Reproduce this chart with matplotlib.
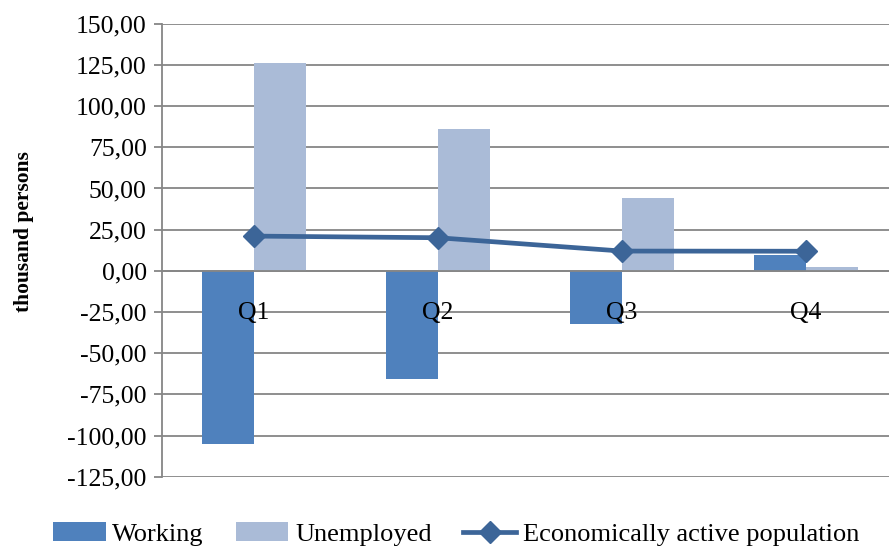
import numpy as np
import matplotlib
matplotlib.use("Agg")
import matplotlib.pyplot as plt

plt.rcParams['font.family'] = ['Liberation Serif', 'DejaVu Serif']

quarters = ["Q1", "Q2", "Q3", "Q4"]
working = [-104.9, -65.8, -32.0, 9.5]
unemployed = [126.0, 85.9, 44.0, 2.4]
active = [21.1, 20.1, 12.0, 11.9]
y_ticks = [-125, -100, -75, -50, -25, 0, 25, 50, 75, 100, 125, 150]

grid_col = "#868686"

fig = plt.figure(figsize=(8.89, 5.48), dpi=100)
ax = fig.add_axes([162 / 889, 1 - 476.7 / 548, 1 - 162 / 889, (476.7 - 23.8) / 548])

x = np.arange(len(quarters))
w = 0.283
b1 = ax.bar(x, working, width=-w, align="edge", color="#4F81BD", zorder=1, label="Working")
b2 = ax.bar(x, unemployed, width=w, align="edge", color="#AABBD7", zorder=1, label="Unemployed")
l1, = ax.plot(x, active, color="#3C6598", lw=3.4, marker="D", markersize=11.5,
              zorder=4, label="Economically active population")

ax.set_xlim(-0.5, -0.5 + (889 - 162) / 184)
ax.set_ylim(-125, 150)
ax.set_yticks(y_ticks)
ax.set_yticklabels([f"{v:.2f}".replace(".", ",") for v in y_ticks], fontsize=18.5)
ax.set_xticks([])

ax.set_axisbelow(True)
ax.yaxis.grid(True, color=grid_col, lw=1.3)
ax.tick_params(axis="y", direction="out", length=6, width=1.3, color=grid_col, pad=5)

for s in ["top", "right"]:
    ax.spines[s].set_visible(False)
ax.spines["left"].set_color(grid_col)
ax.spines["left"].set_linewidth(1.3)
ax.spines["bottom"].set_position(("data", 0))
ax.spines["bottom"].set_color(grid_col)
ax.spines["bottom"].set_linewidth(1.3)
ax.spines["bottom"].set_zorder(2.5)

for i, q in enumerate(quarters):
    ax.annotate(q, (i, 0), xytext=(0, -22.5), textcoords="offset points",
                ha="center", va="top", fontsize=18.5, zorder=5)

fig.text(24 / 889, 1 - 232 / 548, "thousand persons", rotation=90, ha="center",
         va="center", fontsize=15.5, fontweight="bold")

fig.legend([b1, b2, l1], ["Working", "Unemployed", "Economically active population"],
           loc="center", bbox_to_anchor=(0.513, 1 - 534 / 548), ncol=3, frameon=False,
           fontsize=19, handlelength=2.0, handletextpad=0.25, columnspacing=1.2,
           borderpad=0)

fig.savefig("out.png", dpi=100)
